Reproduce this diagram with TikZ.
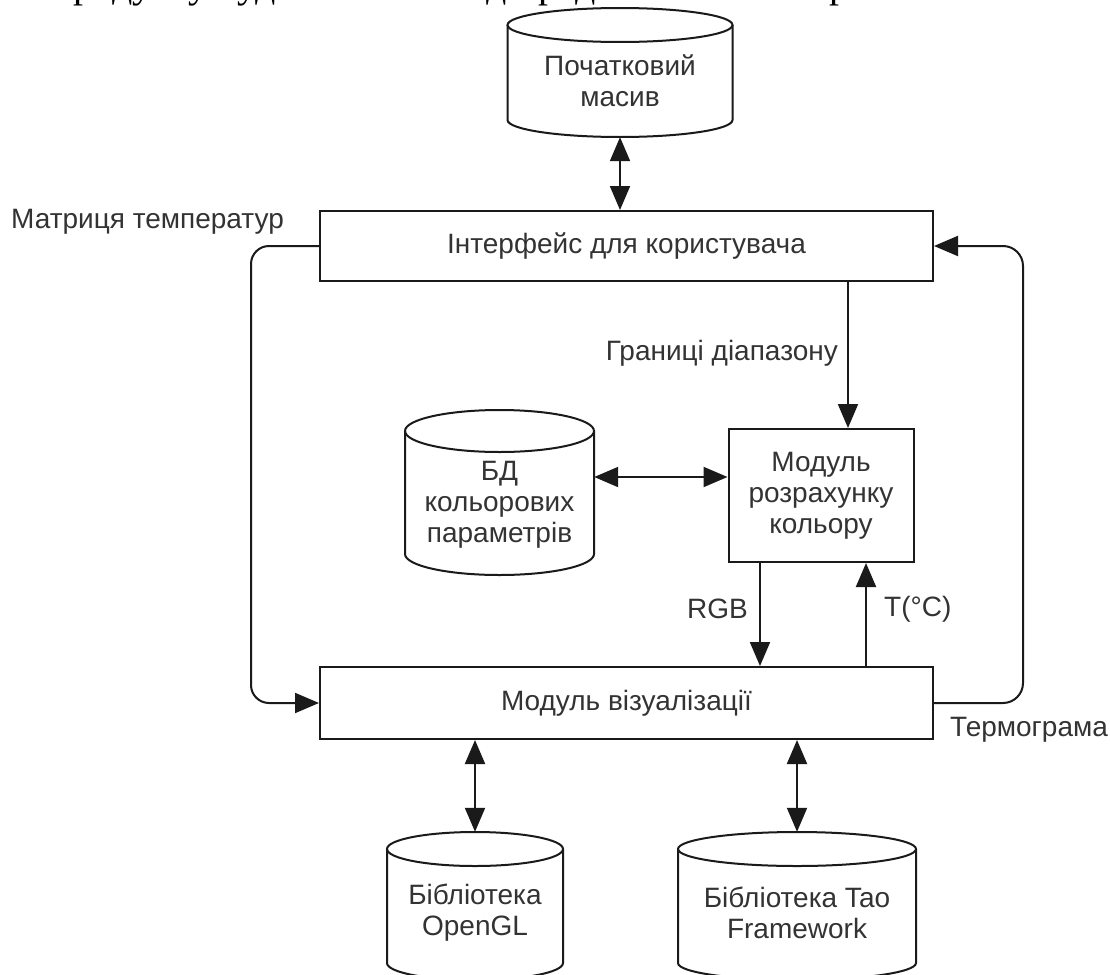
\documentclass[tikz,border=0pt]{standalone}
\usepackage{fontspec}
\setmainfont{Liberation Sans}
\newfontfamily\bodyserif{Liberation Serif}
\usetikzlibrary{arrows.meta}
\definecolor{inkline}{HTML}{1A1A1A}
\definecolor{inktext}{HTML}{333333}

% database cylinder: centre x, top y, width, height, cap half-height (y grows downwards)
\newcommand\drawcyl[5]{%
  \draw[cylline] ({#1-#3/2},{-(#2+#5)}) -- ({#1-#3/2},{-(#2+#4-#5)})
    arc[start angle=180, end angle=360, x radius={#3/2}, y radius=#5]
    -- ({#1+#3/2},{-(#2+#5)});
  \draw[cylline] (#1,{-(#2+#5)}) ellipse [x radius={#3/2}, y radius=#5];
}

\begin{document}
\begin{tikzpicture}[x=1pt,y=1pt,
  cylline/.style={draw=inkline, line width=2pt},
  box/.style={draw=inkline, line width=2pt, fill=white, inner sep=0pt,
    text=inktext, font=\fontsize{28}{31}\selectfont, align=center},
  shell/.style={inner sep=0pt},
  hold/.style={inner sep=0pt, text=inktext, font=\fontsize{28}{31}\selectfont, align=center},
  lbl/.style={inner sep=0pt, text=inktext, font=\fontsize{28}{31}\selectfont},
  conn/.style={draw=inkline, line width=2pt, -{Triangle[length=24pt,width=20pt]}},
  biconn/.style={draw=inkline, line width=2pt,
    {Triangle[length=24pt,width=20pt]}-{Triangle[length=24pt,width=20pt]}},
]
\useasboundingbox (0,0) rectangle (1110,-974);
\clip (0,0) rectangle (1110,-974);
\fill[white] (0,0) rectangle (1110,-974);

% running text of the page above the figure
\node[anchor=base west, inner sep=0pt, font=\bodyserif\fontsize{40}{46}\selectfont]
  (lead) at (52,2) {продукту буде мати вигляд представлений на рис.};

% data stores: outline, outline node and caption
\drawcyl{620}{8}{225}{129}{17}
\node[shell, minimum width=225, minimum height=129] (init) at (620,-72.5) {};
\node[hold] (initText) at (620,-81) {Початковий\\масив};

\drawcyl{499.5}{410}{189}{165}{21}
\node[shell, minimum width=189, minimum height=165] (bd) at (499.5,-492.5) {};
\node[hold] (bdText) at (499.5,-505) {БД\\кольорових\\параметрів};

\drawcyl{475}{832}{176}{148}{17}
\node[shell, minimum width=176, minimum height=148] (ogl) at (475,-906) {};
\node[hold] (oglText) at (475,-913) {Бібліотека\\OpenGL};

\drawcyl{797}{832}{238}{148}{17}
\node[shell, minimum width=238, minimum height=148] (tao) at (797,-906) {};
\node[hold] (taoText) at (797,-913) {Бібліотека Tao\\Framework};

% modules
\node[box, minimum width=613, minimum height=70] (ui) at (626.5,-246) {Інтерфейс для користувача};
\node[box, minimum width=185, minimum height=133] (mod) at (821,-495.5) {Модуль\\розрахунку\\кольору};
\node[box, minimum width=613, minimum height=72] (viz) at (626.5,-703) {Модуль візуалізації};

% ports
\coordinate (rangeIn) at ([xshift=27pt]mod.north);
\coordinate (bdPort) at ([yshift=15.5pt]bd.east);
\coordinate (rgbOut) at ([xshift=-61pt]mod.south);
\coordinate (tIn) at ([xshift=45pt]mod.south);

% connectors
\draw[biconn] (init.south) -- (init.south |- ui.north);
\draw[conn, rounded corners=18pt] (ui.west) -- ++(-68,0) |- (viz.west);
\draw[conn, rounded corners=20pt] (viz.east) -- ++(89,0) |- (ui.east);
\draw[conn] (rangeIn |- ui.south) -- (rangeIn);
\draw[biconn] (bdPort) -- (bdPort -| mod.west);
\draw[conn] (rgbOut) -- (rgbOut |- viz.north);
\draw[conn] (tIn |- viz.north) -- (tIn);
\draw[biconn] (ogl.north |- viz.south) -- (ogl.north);
\draw[biconn] (tao.north |- viz.south) -- (tao.north);

% connector labels
\node[lbl, anchor=west] (matrixLbl) at (11,-222) {Матриця температур};
\node[lbl, anchor=east] (rangeLbl) at (838,-353) {Границі діапазону};
\node[lbl, anchor=east] (rgbLbl) at (748,-609) {RGB};
\node[lbl, anchor=west] (tLbl) at (884,-609) {T(°C)};
\node[lbl, anchor=west] (thermoLbl) at (950,-730) {Термограма};
\end{tikzpicture}
\end{document}
